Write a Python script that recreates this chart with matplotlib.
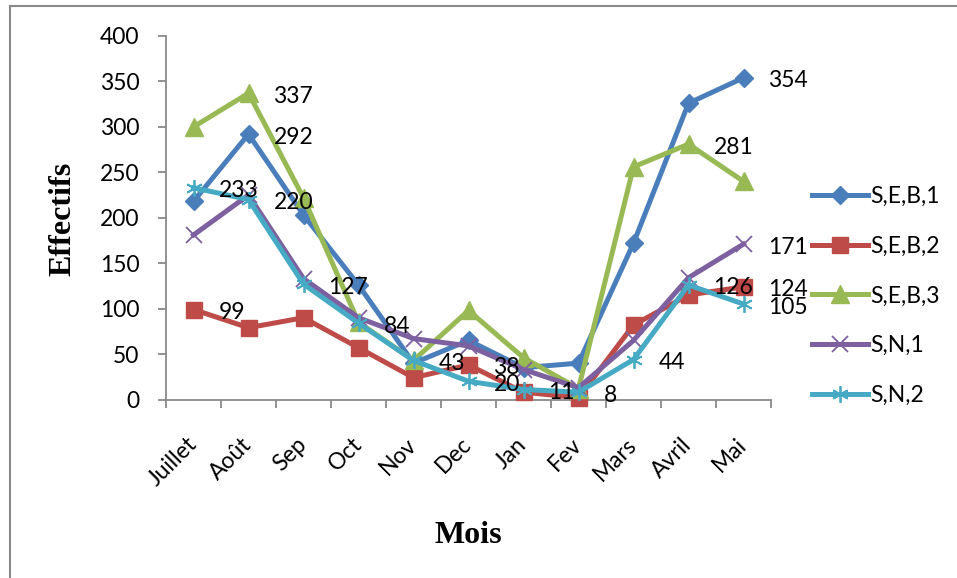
import matplotlib
matplotlib.use('Agg')
import matplotlib.pyplot as plt
from matplotlib.lines import Line2D
import numpy as np

# Données
mois = ['Juillet', 'Août', 'Sep', 'Oct', 'Nov', 'Dec', 'Jan', 'Fev', 'Mars', 'Avril', 'Mai']
seb1 = [218, 292, 203, 126, 40, 65, 35, 40, 172, 326, 354]
seb2 = [99, 79, 90, 57, 24, 38, 8, 2, 82, 115, 124]
seb3 = [300, 337, 222, 85, 43, 98, 46, 12, 256, 281, 240]
sn1 = [181, 225, 133, 90, 67, 59, 33, 13, 65, 134, 171]
sn2 = [233, 220, 127, 84, 43, 20, 11, 8, 44, 126, 105]
noms = ['S,E,B,1', 'S,E,B,2', 'S,E,B,3', 'S,N,1', 'S,N,2']

# points qui portent une étiquette (indices des mois)
etiq_seb1 = [1, 10]
etiq_seb2 = [0, 5, 10]
etiq_seb3 = [1, 9]
etiq_sn1 = [10]
etiq_sn2 = list(range(11))

plt.rcParams['font.family'] = ['Lato', 'DejaVu Sans']

couleurs = ['#4a7ebb', '#be4b48', '#98b954', '#7d60a0', '#46aac5']
marqueurs = ['D', 's', '^', 'x', (6, 2, 0)]
tailles = [9, 12, 13, 12, 12]
gris = '#898989'

fig = plt.figure(figsize=(9.57, 5.78), dpi=100)
ax = fig.add_axes([166/957, 1-399.5/578, (771-166)/957, (399.5-36)/578])

x = np.arange(len(mois))
series = [seb1, seb2, seb3, sn1, sn2]
etiquettes = [etiq_seb1, etiq_seb2, etiq_seb3, etiq_sn1, etiq_sn2]
for k, y in enumerate(series):
    ax.plot(x, y, color=couleurs[k], linewidth=3.6, marker=marqueurs[k],
            markersize=tailles[k], markerfacecolor=couleurs[k],
            markeredgecolor=couleurs[k], markeredgewidth=1.3 if k >= 3 else 1,
            label=noms[k], clip_on=False, zorder=2+k)

for k, y in enumerate(series):
    for i in etiquettes[k]:
        ax.annotate(str(y[i]), (x[i], y[i]), xytext=(25, -3), textcoords='offset pixels',
                    ha='left', va='center', fontsize=16.5, color='black',
                    annotation_clip=False, zorder=10)

ax.set_xlim(-0.5, 10.5)
ax.set_ylim(0, 400)
ax.set_yticks(np.arange(0, 401, 50))
ax.set_xticks(np.arange(-0.5, 11, 1))
ax.set_xticklabels([])
ax.set_xticks(x, minor=True)
ax.set_xticklabels(mois, minor=True, rotation=45, ha='right', va='center',
                   rotation_mode='anchor')
ax.tick_params(axis='x', which='minor', length=0, pad=30, labelsize=16.5)
ax.tick_params(axis='both', which='major', length=6, width=1.3, color=gris,
               labelsize=16.5)
ax.tick_params(axis='y', pad=13)

for s in ['top', 'right']:
    ax.spines[s].set_visible(False)
for s in ['left', 'bottom']:
    ax.spines[s].set_color(gris)
    ax.spines[s].set_linewidth(1.3)

fig.text(63/957, 1-219/578, 'Effectifs', rotation=90, ha='center', va='center',
         family='Liberation Serif', weight='bold', fontsize=23)
fig.text(468/957, 1-543/578, 'Mois', ha='center', va='baseline',
         family='Liberation Serif', weight='bold', fontsize=23)

ax.legend(loc='center left', bbox_to_anchor=(812/957, 1-296/578),
          bbox_transform=fig.transFigure, frameon=False, borderpad=0,
          borderaxespad=0, handlelength=2.45, handletextpad=0.1,
          labelspacing=1.25, fontsize=16.5)

# cadre extérieur
fig.add_artist(Line2D([10/957, 1], [1-6/578, 1-6/578], color=gris, linewidth=1.5,
                      transform=fig.transFigure))
fig.add_artist(Line2D([10/957, 10/957], [0, 1-6/578], color=gris, linewidth=1.5,
                      transform=fig.transFigure))

fig.savefig('out.png', dpi=100)
